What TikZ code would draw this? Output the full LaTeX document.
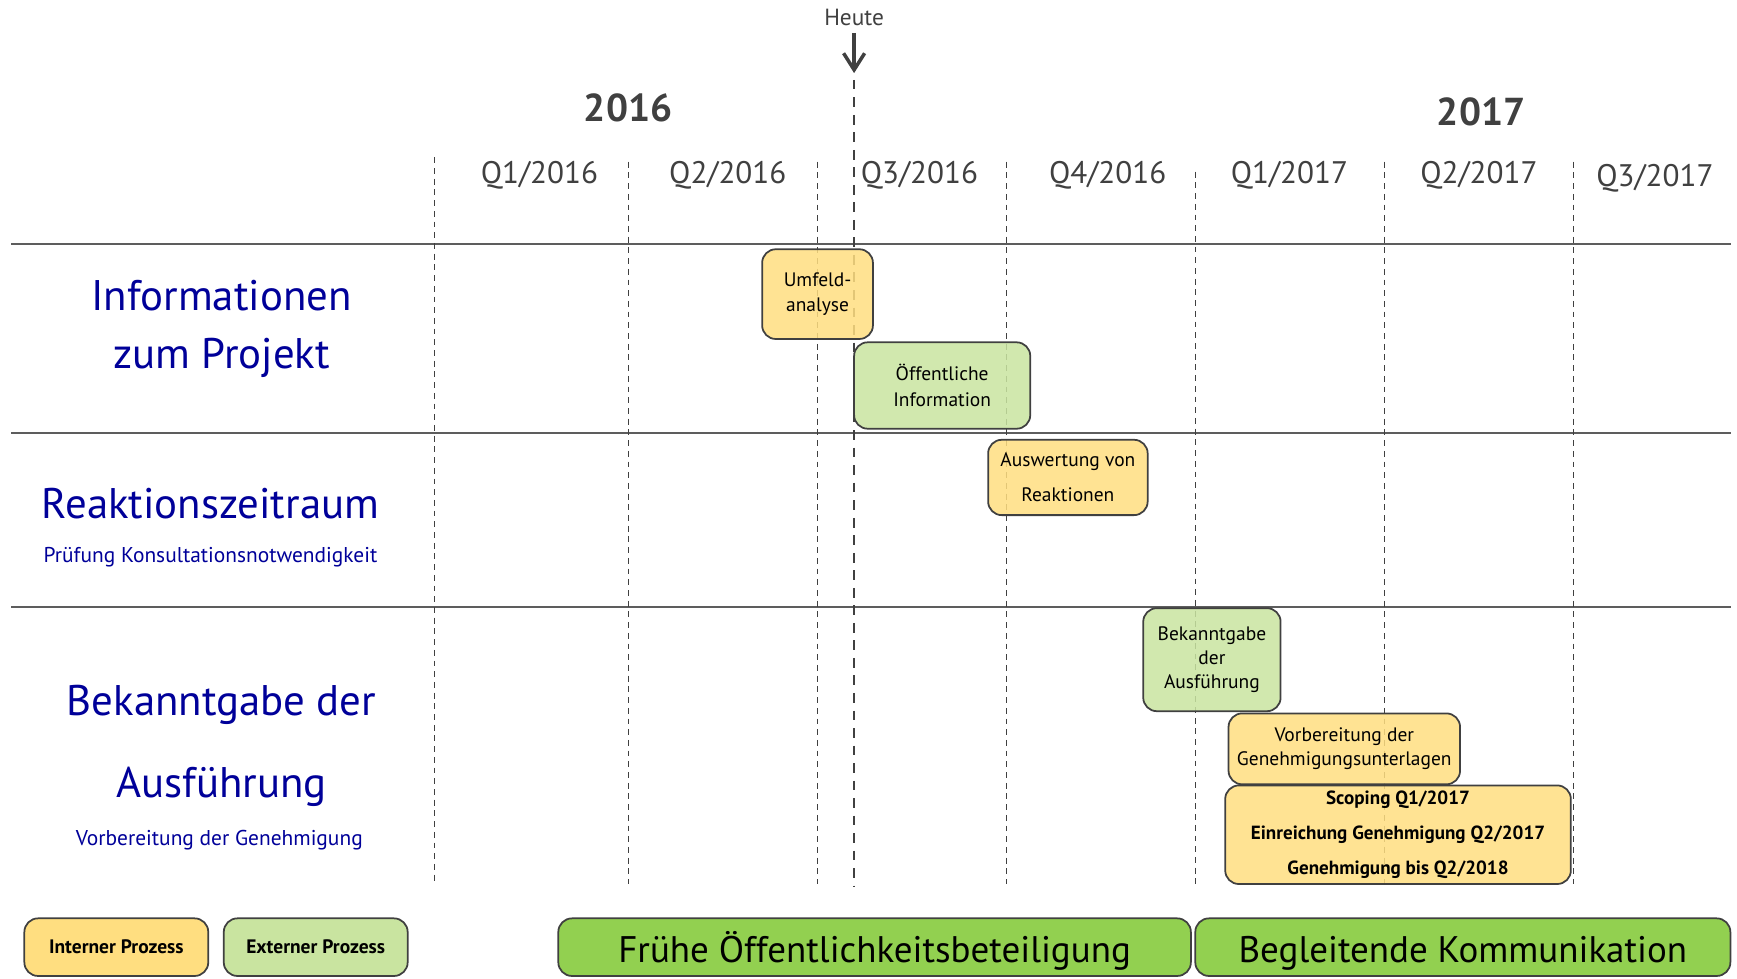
\documentclass[tikz,border=0pt]{standalone}
\usepackage{fontspec}
\setmainfont{PT Sans}
\usetikzlibrary{arrows.meta,positioning}
\definecolor{ink}{HTML}{404040}
\definecolor{rowblue}{HTML}{000099}
\definecolor{internfill}{HTML}{FFDE80}
\definecolor{externfill}{HTML}{C9E4A0}
\definecolor{phasefill}{HTML}{92D050}

\begin{document}
\begin{tikzpicture}[x=0.2mm,y=-0.2mm,
qline/.style={draw=ink,line width=0.5pt,dash pattern=on 3pt off 2.5pt},
today/.style={draw=ink,line width=1.3pt,dash pattern=on 5pt off 4pt},
rowline/.style={draw=ink!85,line width=1.2pt},
qlabel/.style={text=ink,font=\fontsize{16}{18}\selectfont},
yearlabel/.style={text=ink,font=\fontsize{20}{22}\selectfont\bfseries},
rowhead/.style={text=rowblue,align=center,font=\fontsize{22}{29.5}\selectfont},
rowsub/.style={text=rowblue,font=\fontsize{11}{13}\selectfont},
task/.style={draw=ink,line width=0.9pt,rounded corners=7pt,align=center,inner sep=1pt,
fill opacity=0.85,text opacity=1,font=\fontsize{10}{13}\selectfont},
intern/.style={task,fill=internfill},
extern/.style={task,fill=externfill},
legendbox/.style={draw=ink,line width=0.9pt,rounded corners=7pt,minimum width=33.2mm,
minimum height=10.4mm,font=\fontsize{10}{12}\selectfont\bfseries},
phase/.style={draw=ink,line width=0.9pt,rounded corners=7pt,fill=phasefill,
minimum height=10.4mm,text height=16pt,text depth=0.5pt,font=\fontsize{19}{21}\selectfont}]
\useasboundingbox (0,0) rectangle (1568,883);
% Zeitachse
\node[text=ink,font=\fontsize{12}{14}\selectfont] (heute) at (771,16) {Heute};
\coordinate (heutetip) at (771,66);
\draw[draw=ink,line width=1.8pt,-{Straight Barb[length=3mm,width=3.8mm]}] (heute.south) -- (heutetip);
\node[yearlabel] (y2016) at (567,97) {2016};
\node[yearlabel] (y2017) at (1337,101) {2017};
\foreach \x/\y/\q/\yr in {487/158/1/2016,657/158/2/2016,830/158/3/2016,1000/158/4/2016,
1164/158/1/2017,1335/158/2/2017,1494/161/3/2017}
\node[qlabel] (q\q\yr) at (\x,\y) {Q\q/\yr};
\foreach \y in {220,391,548}
\draw[rowline] (10,\y) -- (1563,\y);
\foreach \x/\t in {392/142,567/146,738/146,909/146,1079/155,1250/146,1420/146}
\draw[qline] (\x,\t) -- (\x,798);
\draw[today] (771,72) -- (771,800);
% Zeilen
\node[rowhead] (info) at (200,297) {Informationen\\zum Projekt};
\node[rowhead] (reakt) at (190,455) {Reaktionszeitraum};
\node[rowsub] (pruef) at (190,503) {Prüfung Konsultationsnotwendigkeit};
\node[rowhead,font=\fontsize{22}{42}\selectfont] (bekannt) at (200,673) {Bekanntgabe der\\Ausführung};
\node[rowsub] (vorgen) at (198,758) {Vorbereitung der Genehmigung};
% Aufgaben
\node[intern,minimum width=20mm,minimum height=16.2mm] (umfeld) at (738,265.5) {Umfeld-\\analyse};
\node[extern,minimum width=31.8mm,minimum height=15.6mm] (oeffinfo) at (850.5,348) {Öffentliche\\Information};
\node[intern,minimum width=28.8mm,minimum height=13.6mm,font=\fontsize{10}{18}\selectfont] (auswert) at (964,431) {Auswertung von\\Reaktionen};
\node[extern,minimum width=24.8mm,minimum height=18.6mm,font=\fontsize{10}{12.5}\selectfont] (bekanntg) at (1094,595.5) {Bekanntgabe\\der\\Ausführung};
\node[intern,minimum width=41.8mm,minimum height=12.8mm,font=\fontsize{10}{12.5}\selectfont] (vorber) at (1213.5,676) {Vorbereitung der\\Genehmigungsunterlagen};
\node[intern,minimum width=62.4mm,minimum height=17.8mm,font=\fontsize{9.8}{18}\selectfont\bfseries] (scoping) at (1262,753.5) {Scoping Q1/2017\\Einreichung Genehmigung Q2/2017\\Genehmigung bis Q2/2018};
% Legende und Phasen
\node[legendbox,fill=internfill] (lintern) at (105,855) {Interner Prozess};
\node[legendbox,fill=externfill] (lextern) at (285,855) {Externer Prozess};
\node[phase,minimum width=114.2mm] (fruehe) at (789.5,855) {Frühe Öffentlichkeitsbeteiligung};
\node[phase,minimum width=96.6mm] (begleit) at (1320.5,855) {Begleitende Kommunikation};
\end{tikzpicture}
\end{document}
